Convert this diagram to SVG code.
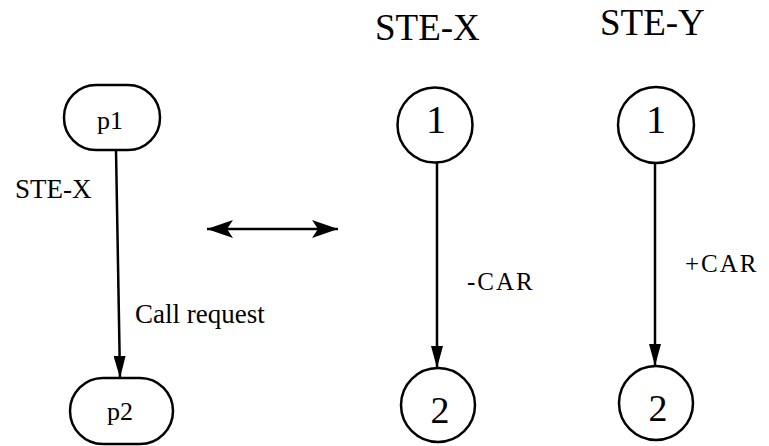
<svg xmlns="http://www.w3.org/2000/svg" width="769" height="446" viewBox="0 0 769 446">
  <style>
    .node { fill: #fff; stroke: #000; stroke-width: 2.5; }
    .edge { stroke: #000; stroke-width: 2.5; fill: none; }
    .lbl { font-family: "Liberation Serif", "Times New Roman", serif; fill: #000; }
  </style>
  <defs>
    <marker id="head" viewBox="0 0 22 12" refX="22" refY="6" markerWidth="22" markerHeight="12" markerUnits="userSpaceOnUse" orient="auto">
      <path d="M0,0 L22,6 L0,12 z" fill="#000"/>
    </marker>
    <marker id="dhead" viewBox="0 0 26 18" refX="26" refY="9" markerWidth="26" markerHeight="18" markerUnits="userSpaceOnUse" orient="auto-start-reverse">
      <path d="M0,0 L26,9 L0,18 L6,9 z" fill="#000"/>
    </marker>
  </defs>

  <!-- titles -->
  <text class="lbl" x="375" y="40" font-size="37">STE-X</text>
  <text class="lbl" x="600" y="35" font-size="37">STE-Y</text>

  <!-- nodes -->
  <g id="p1">
    <rect class="node" x="64" y="85" width="96" height="65" rx="32" ry="32"/>
    <text class="lbl" x="110" y="129" font-size="26" text-anchor="middle">p1</text>
  </g>
  <g id="p2">
    <rect class="node" x="70" y="378" width="103" height="66" rx="33" ry="33"/>
    <text class="lbl" x="120" y="420" font-size="26" text-anchor="middle">p2</text>
  </g>
  <g id="x1">
    <circle class="node" cx="435" cy="125" r="37.5"/>
    <text class="lbl" x="436" y="133" font-size="40" text-anchor="middle">1</text>
  </g>
  <g id="x2">
    <circle class="node" cx="438" cy="405" r="37"/>
    <text class="lbl" x="440" y="423" font-size="38" text-anchor="middle">2</text>
  </g>
  <g id="y1">
    <circle class="node" cx="656" cy="125" r="38"/>
    <text class="lbl" x="656" y="133" font-size="40" text-anchor="middle">1</text>
  </g>
  <g id="y2">
    <circle class="node" cx="656" cy="403" r="37"/>
    <text class="lbl" x="658" y="421" font-size="38" text-anchor="middle">2</text>
  </g>

  <!-- connectors -->
  <g id="edges">
    <line class="edge" x1="116" y1="150" x2="120" y2="378" marker-end="url(#head)"/>
    <line class="edge" x1="437" y1="162" x2="437" y2="368" marker-end="url(#head)"/>
    <line class="edge" x1="655" y1="163" x2="655" y2="366" marker-end="url(#head)"/>
    <line class="edge" x1="207" y1="229" x2="338" y2="229" stroke-width="3" marker-start="url(#dhead)" marker-end="url(#dhead)"/>
  </g>

  <!-- edge labels -->
  <text class="lbl" x="15" y="198" font-size="27">STE-X</text>
  <text class="lbl" x="135" y="323" font-size="27">Call request</text>
  <text class="lbl" x="467" y="290" font-size="25" letter-spacing="2">-CAR</text>
  <text class="lbl" x="685" y="272" font-size="25" letter-spacing="2">+CAR</text>
</svg>
